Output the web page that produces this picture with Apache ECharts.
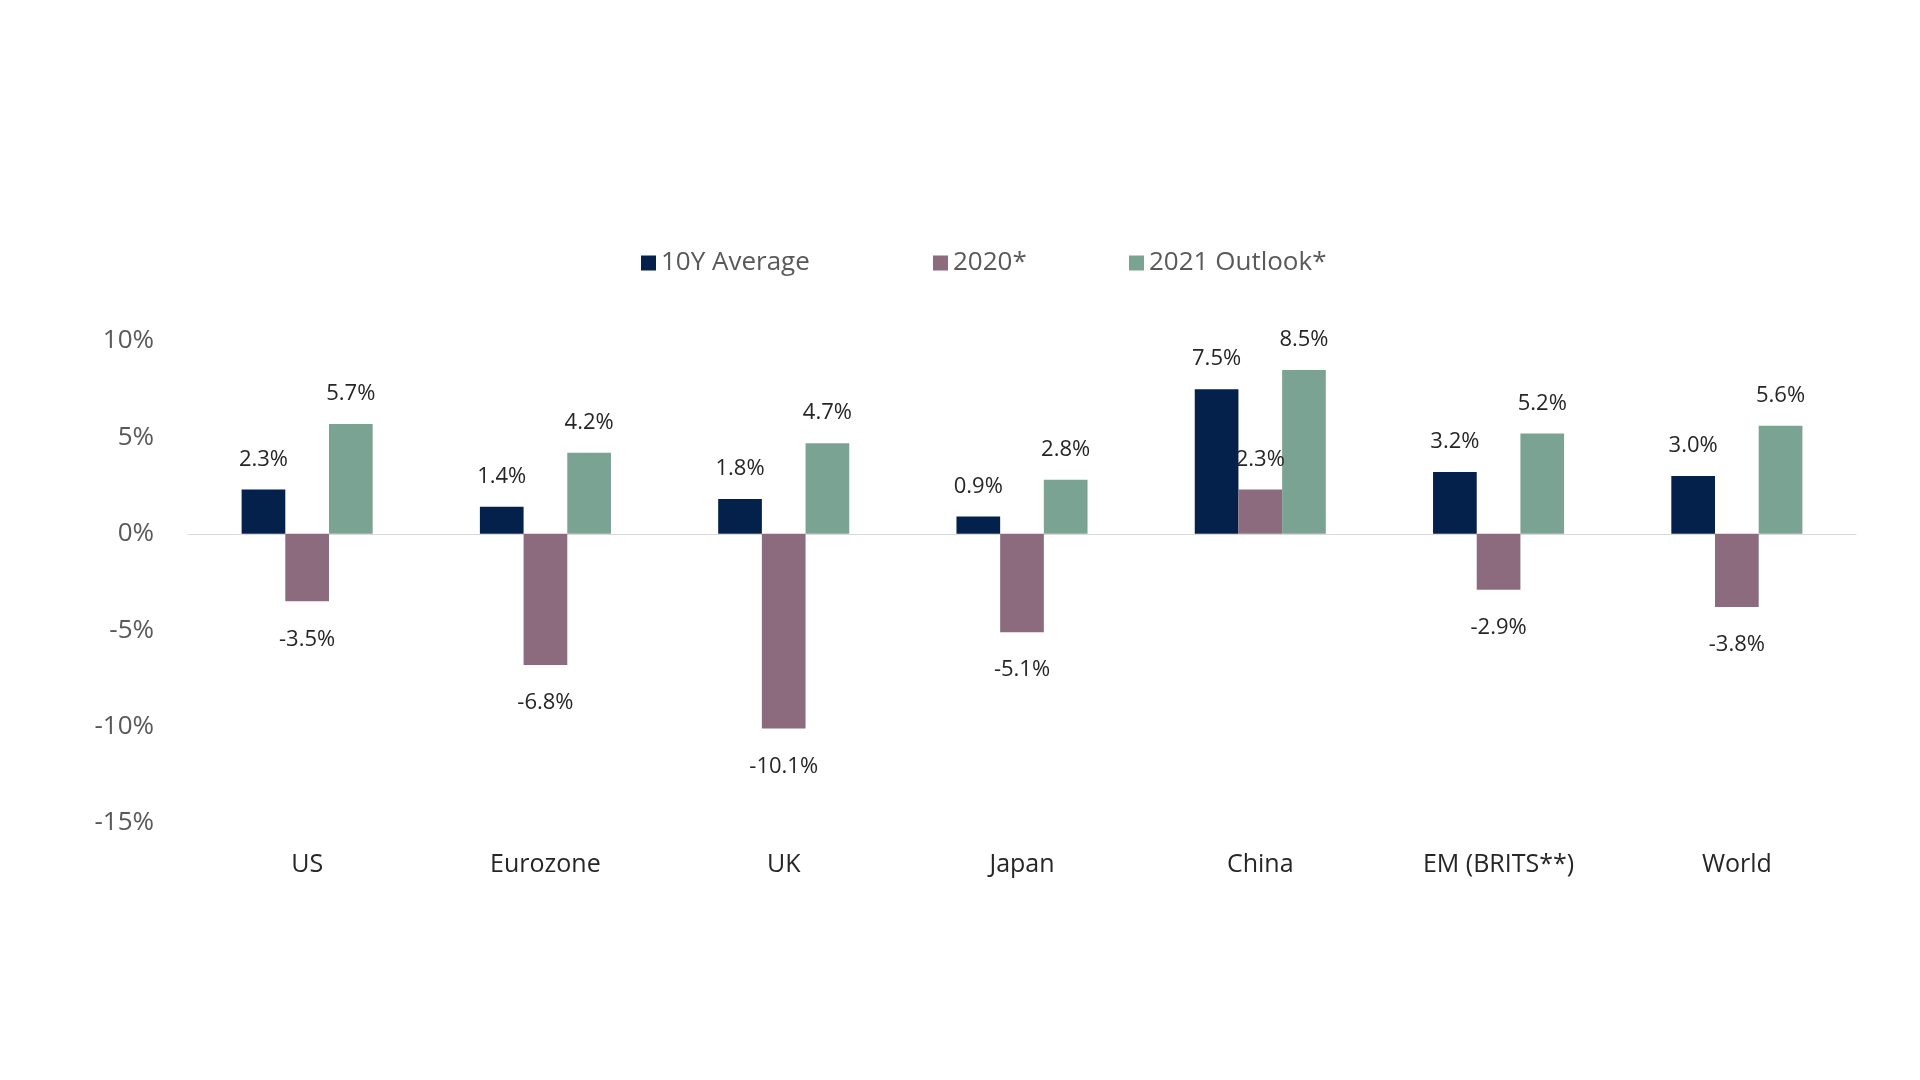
<!DOCTYPE html>
<html><head><meta charset="utf-8">
<script src="https://cdn.jsdelivr.net/npm/echarts@6/dist/echarts.min.js"></script>
<style>html,body{margin:0;padding:0;background:#fff}#c{width:1920px;height:1080px}</style>
</head><body><div id="c"></div>
<script>
const categories = ['US','Eurozone','UK','Japan','China','EM (BRITS**)','World'];
const avg10y = [2.3, 1.4, 1.8, 0.9, 7.5, 3.2, 3.0];
const y2020 = [-3.5, -6.8, -10.1, -5.1, 2.3, -2.9, -3.8];
const outlook2021 = [5.7, 4.2, 4.7, 2.8, 8.5, 5.2, 5.6];
const seriesNames = ['10Y Average','2020*','2021 Outlook*'];
const colors = ['#03214a','#8b6b7d','#7ba393'];
const FONT = '"Open Sans", sans-serif';
const legendLefts = [641, 933, 1129];

function mkData(arr){
  return arr.map(v => ({
    value: v,
    label: v >= 0 ? {position:'top', distance: 19} : {position:'bottom', distance: 27}
  }));
}
function mkSeries(name, arr, color){
  return {
    name, type:'bar', data: mkData(arr), barGap:'0%', barCategoryGap:'45%',
    itemStyle:{color},
    label:{show:true, color:'#262626', fontSize:22, fontFamily:FONT,
      formatter: p => p.value.toFixed(1) + '%'}
  };
}
const chart = echarts.init(document.getElementById('c'));
chart.setOption({
  animation:false,
  backgroundColor:'#fff',
  legend: seriesNames.map((n, i) => ({
    top:250, left:legendLefts[i], itemWidth:15, itemHeight:15,
    icon:'rect', padding:0,
    textStyle:{fontSize:26, color:'#595959', fontFamily:FONT},
    data:[n]
  })),
  grid:{left:188, right:64, top:341, bottom:257},
  xAxis:{
    type:'category', data:categories,
    axisLine:{show:true, onZero:true, lineStyle:{color:'#d9d9d9', width:1}},
    axisTick:{show:false},
    axisLabel:{color:'#262626', fontSize:25, fontFamily:FONT, margin:29}
  },
  yAxis:{
    type:'value', min:-15, max:10, interval:5,
    axisLine:{show:false}, axisTick:{show:false},
    splitLine:{show:false},
    axisLabel:{color:'#595959', fontSize:26, fontFamily:FONT, margin:34,
      formatter: v => v + '%'}
  },
  series:[
    mkSeries(seriesNames[0], avg10y, colors[0]),
    mkSeries(seriesNames[1], y2020, colors[1]),
    mkSeries(seriesNames[2], outlook2021, colors[2])
  ]
});
</script></body></html>
